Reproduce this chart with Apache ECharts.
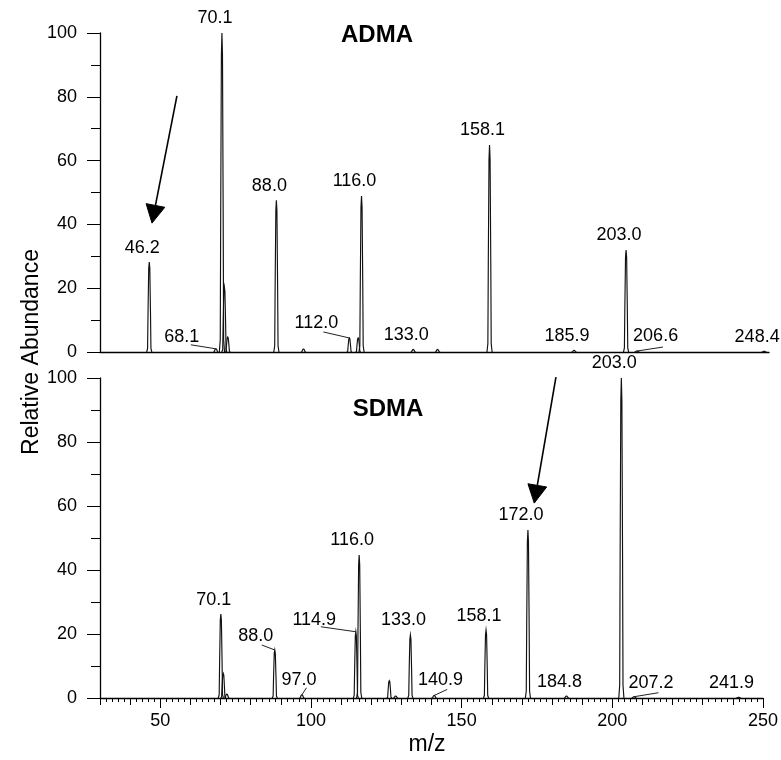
<!DOCTYPE html>
<html><head><meta charset="utf-8">
<script src="https://cdn.jsdelivr.net/npm/echarts@6/dist/echarts.min.js"></script>
<style>html,body{margin:0;padding:0;background:#fff}#c{width:781px;height:760px}</style>
</head><body><div id="c"></div>
<script>
// ---- data ----
const admaMz    = [46.2, 68.1, 70.1, 70.9, 72.0, 88.0, 96.9, 112.0, 114.9, 116.0, 133.0, 141.0, 158.1, 185.9, 203.0, 206.6, 248.4];
const admaAbund = [28.2, 1.0, 100, 20.4, 4.7, 47.6, 0.9, 4.4, 4.4, 48.9, 0.8, 0.8, 64.9, 0.5, 32.0, 0.3, 0.2];
const admaLabeled = [46.2, 68.1, 70.1, 88.0, 112.0, 116.0, 133.0, 158.1, 185.9, 203.0, 206.6, 248.4];

const sdmaMz    = [70.1, 70.9, 72.1, 88.0, 97.0, 114.9, 116.0, 126.0, 128.1, 133.0, 140.9, 158.1, 172.0, 184.8, 203.0, 207.2, 241.9];
const sdmaAbund = [26.2, 7.7, 1.2, 15.0, 1.0, 20.7, 44.7, 5.4, 0.6, 19.7, 0.8, 21.2, 52.5, 0.6, 100, 0.4, 0.2];
const sdmaLabeled = [70.1, 88.0, 97.0, 114.9, 116.0, 133.0, 140.9, 158.1, 172.0, 184.8, 203.0, 207.2, 241.9];

const xTickLabels = [50, 100, 150, 200, 250];
const yTickLabels = [0, 20, 40, 60, 80, 100];

// annotation arrows: [tail m/z, tail abundance, tip m/z, tip abundance]
const admaArrow = [55.3, 80.3, 47.1, 40.4];
const sdmaArrow = [181.3, 100.3, 174.1, 60.9];

// ---- styling / layout ----
const FONT = "'Liberation Sans', Arial, Helvetica, sans-serif";
const DEF = {dx: -7, dy: -14.5};
const labelLayout = {
  adma: {
    '68.1':  {dx: -34, dy: -11.5, lead: [-25, -4]},
    '112.0': {dx: -33, dy: -14.5, lead: [-26, -6]},
    '206.6': {dx: 18.6, dy: -15.5, lead: [26, -4]}
  },
  sdma: {
    '88.0':  {dx: -19, dy: -14, lead: [-13, -5]},
    '97.0':  {dx: -3, dy: -15, lead: [4.5, -7]},
    '114.9': {dx: -41.6, dy: -11.8, lead: [-35, -5]},
    '140.9': {dx: 6.4, dy: -15.4, lead: [13, -6]},
    '207.2': {dx: 17, dy: -14, lead: [24.5, -4]}
  }
};

function peakRender(params, api) {
  const m = api.value(0), h = api.value(1);
  const prof = [[-0.85,0],[-0.55,0.04],[-0.4,0.45],[-0.18,0.93],[0,1],[0.18,0.93],[0.4,0.45],[0.55,0.04],[0.85,0]];
  const pts = prof.map(p => api.coord([m + p[0], h * p[1]]));
  return {type: 'polyline', shape: {points: pts}, style: {stroke: '#111', lineWidth: 1.15, fill: null}};
}

function makeLabelRender(panel) {
  return function (params, api) {
    const m = api.value(0), h = api.value(1);
    const top = api.coord([m, h]);
    const txt = m.toFixed(1);
    const lay = labelLayout[panel][txt] || DEF;
    const children = [{
      type: 'text',
      style: {text: txt, x: top[0] + lay.dx, y: top[1] + lay.dy, align: 'center', verticalAlign: 'middle',
              fontSize: 18, fontFamily: FONT, fill: '#000'}
    }];
    if (lay.lead) {
      children.push({type: 'line', shape: {x1: top[0], y1: top[1], x2: top[0] + lay.lead[0], y2: top[1] + lay.lead[1]},
                     style: {stroke: '#222', lineWidth: 1}});
    }
    return {type: 'group', children};
  };
}

function arrowRender(params, api) {
  const p1 = api.coord([api.value(0), api.value(1)]);
  const p2 = api.coord([api.value(2), api.value(3)]);
  const dx = p2[0] - p1[0], dy = p2[1] - p1[1];
  const len = Math.sqrt(dx * dx + dy * dy);
  const ux = dx / len, uy = dy / len, nx = -uy, ny = ux;
  const L = 18, W = 19;
  const bx = p2[0] - L * ux, by = p2[1] - L * uy;
  return {type: 'group', children: [
    {type: 'line', shape: {x1: p1[0], y1: p1[1], x2: bx, y2: by}, style: {stroke: '#000', lineWidth: 1.6}},
    {type: 'polygon', shape: {points: [[p2[0], p2[1]], [bx + nx * W / 2, by + ny * W / 2], [bx - nx * W / 2, by - ny * W / 2]]},
     style: {fill: '#000', stroke: '#000', lineWidth: 1}}
  ]};
}

const pairs = (mz, ab) => mz.map((m, i) => [m, ab[i]]);
const labelPairs = (lab, mz, ab) => lab.map(m => [m, ab[mz.indexOf(m)]]);

const yAxisBase = (gi) => ({
  type: 'value', gridIndex: gi, min: 0, max: 100, interval: 20,
  axisLine: {show: true, lineStyle: {color: '#000', width: 1.3}},
  axisTick: {show: true, length: 13, lineStyle: {color: '#000', width: 1}},
  minorTick: {show: true, splitNumber: 2, length: 9, lineStyle: {color: '#000', width: 1}},
  axisLabel: {customValues: yTickLabels, fontSize: 18, fontFamily: FONT, color: '#000', margin: 23},
  splitLine: {show: false}, minorSplitLine: {show: false}
});

const chart = echarts.init(document.getElementById('c'), null, {renderer: 'canvas'});
chart.setOption({
  backgroundColor: '#fff',
  animation: false,
  grid: [
    {left: 100, right: 12, top: 33, height: 319},
    {left: 100, right: 12, top: 378, height: 320}
  ],
  xAxis: [
    {type: 'value', gridIndex: 0, min: 30, max: 250, position: 'bottom',
     axisLine: {show: true, onZero: false, lineStyle: {color: '#000', width: 1.3}},
     axisTick: {show: false}, axisLabel: {show: false}, splitLine: {show: false}},
    {type: 'value', gridIndex: 1, min: 30, max: 250, interval: 10, position: 'bottom',
     axisLine: {show: true, onZero: false, lineStyle: {color: '#000', width: 1.3}},
     axisTick: {show: true, length: 7, lineStyle: {color: '#000', width: 1}},
     minorTick: {show: true, splitNumber: 5, length: 4, lineStyle: {color: '#000', width: 1}},
     axisLabel: {show: false}, splitLine: {show: false}},
    {type: 'value', gridIndex: 1, min: 30, max: 250, position: 'bottom',
     axisLine: {show: false, onZero: false},
     axisTick: {show: true, customValues: xTickLabels, length: 10, lineStyle: {color: '#000', width: 1}},
     axisLabel: {customValues: xTickLabels, fontSize: 18, fontFamily: FONT, color: '#000', margin: 14},
     splitLine: {show: false}}
  ],
  yAxis: [yAxisBase(0), yAxisBase(1)],
  graphic: [
    {type: 'text', style: {text: 'ADMA', x: 377, y: 35, align: 'center', verticalAlign: 'middle',
      fontSize: 24, fontWeight: 'bold', fontFamily: FONT, fill: '#000'}},
    {type: 'text', style: {text: 'SDMA', x: 388, y: 409.5, align: 'center', verticalAlign: 'middle',
      fontSize: 24, fontWeight: 'bold', fontFamily: FONT, fill: '#000'}},
    {type: 'text', x: 32, y: 352, rotation: Math.PI / 2,
     style: {text: 'Relative Abundance', x: 0, y: 0, align: 'center', verticalAlign: 'middle',
      fontSize: 23, fontFamily: FONT, fill: '#000'}},
    {type: 'text', style: {text: 'm/z', x: 427, y: 745, align: 'center', verticalAlign: 'middle',
      fontSize: 23, fontFamily: FONT, fill: '#000'}}
  ],
  series: [
    {type: 'custom', xAxisIndex: 0, yAxisIndex: 0, data: pairs(admaMz, admaAbund), renderItem: peakRender, silent: true},
    {type: 'custom', xAxisIndex: 1, yAxisIndex: 1, data: pairs(sdmaMz, sdmaAbund), renderItem: peakRender, silent: true},
    {type: 'custom', xAxisIndex: 0, yAxisIndex: 0, data: labelPairs(admaLabeled, admaMz, admaAbund), renderItem: makeLabelRender('adma'), silent: true},
    {type: 'custom', xAxisIndex: 1, yAxisIndex: 1, data: labelPairs(sdmaLabeled, sdmaMz, sdmaAbund), renderItem: makeLabelRender('sdma'), silent: true},
    {type: 'custom', xAxisIndex: 0, yAxisIndex: 0, data: [admaArrow], encode: {x: [0, 2], y: [1, 3]}, renderItem: arrowRender, silent: true},
    {type: 'custom', xAxisIndex: 1, yAxisIndex: 1, data: [sdmaArrow], encode: {x: [0, 2], y: [1, 3]}, renderItem: arrowRender, silent: true}
  ]
});
</script>
</body></html>
